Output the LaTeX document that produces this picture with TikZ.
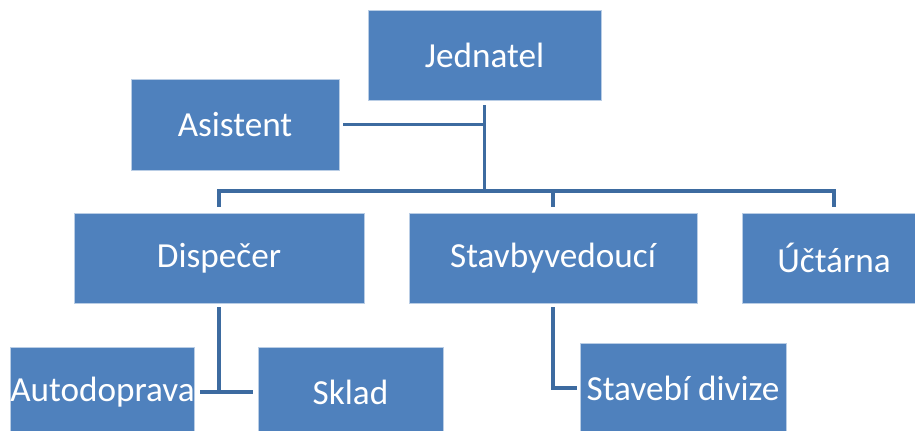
\documentclass[tikz,border=0pt]{standalone}
\usepackage{fontspec}
\setmainfont{Carlito}
\definecolor{boxblue}{HTML}{4F81BD}
\definecolor{boxedge}{HTML}{B9CDE5}
\definecolor{linkblue}{HTML}{3D6BA0}
\tikzset{
  box/.style={draw=boxedge, line width=0.6pt, fill=boxblue, text=white,
    inner sep=0pt, font=\fontsize{26.4}{30}\selectfont},
  conn/.style={draw=linkblue, line width=2.4pt}
}
\begin{document}
\begin{tikzpicture}[x=0.75pt, y=-0.75pt]
  \useasboundingbox (0,0) rectangle (915,431);
  \clip (0,0) rectangle (915,431);

  % boxes (coordinates in pixels, y downward)
  \node[box, minimum width=174.75pt, minimum height=67.5pt] (jed) at (484.5,55) {Jednatel};
  \node[box, minimum width=156pt, minimum height=68.25pt] (asi) at (235,124.5) {Asistent};
  \node[box, minimum width=217.5pt, minimum height=67.5pt] (dis) at (219,258) {Dispečer};
  \node[box, minimum width=216pt, minimum height=67.5pt] (stv) at (553,258) {Stavbyvedoucí};
  \node[box, minimum width=138pt, minimum height=67.5pt] (uct) at (834,258) {Účtárna};
  \node[box, minimum width=137.25pt, minimum height=67.5pt] (aut) at (102.5,392) {Autodoprava};
  \node[box, minimum width=138.75pt, minimum height=67.5pt] (skl) at (350.5,392) {Sklad};
  \node[box, minimum width=154.5pt, minimum height=67.5pt] (sdv) at (683,388) {Stavebí divize};

  \coordinate (bar) at (0,191);

  % Jednatel to the second level
  \draw[conn, shorten <=3.75pt] (jed.south) -- (jed.south |- bar);
  \draw[conn, shorten <=3pt] (asi.east) -- (jed.south |- asi.east);
  \draw[conn, line cap=rect] (dis.north |- bar) -- (uct.north |- bar);
  \draw[conn, shorten >=4.5pt] (dis.north |- bar) -- (dis.north);
  \draw[conn, shorten >=4.5pt] (stv.north |- bar) -- (stv.north);
  \draw[conn, shorten >=4.5pt] (uct.north |- bar) -- (uct.north);

  % Dispečer to Autodoprava and Sklad
  \draw[conn, shorten <=3pt] (dis.south) -- (dis.south |- aut.east);
  \draw[conn, shorten <=3.75pt, shorten >=3.75pt] (aut.east) -- (skl.west);

  % Stavbyvedoucí to Stavebí divize
  \draw[conn, shorten <=3pt, shorten >=2.25pt] (stv.south) |- (sdv.west);
\end{tikzpicture}
\end{document}
